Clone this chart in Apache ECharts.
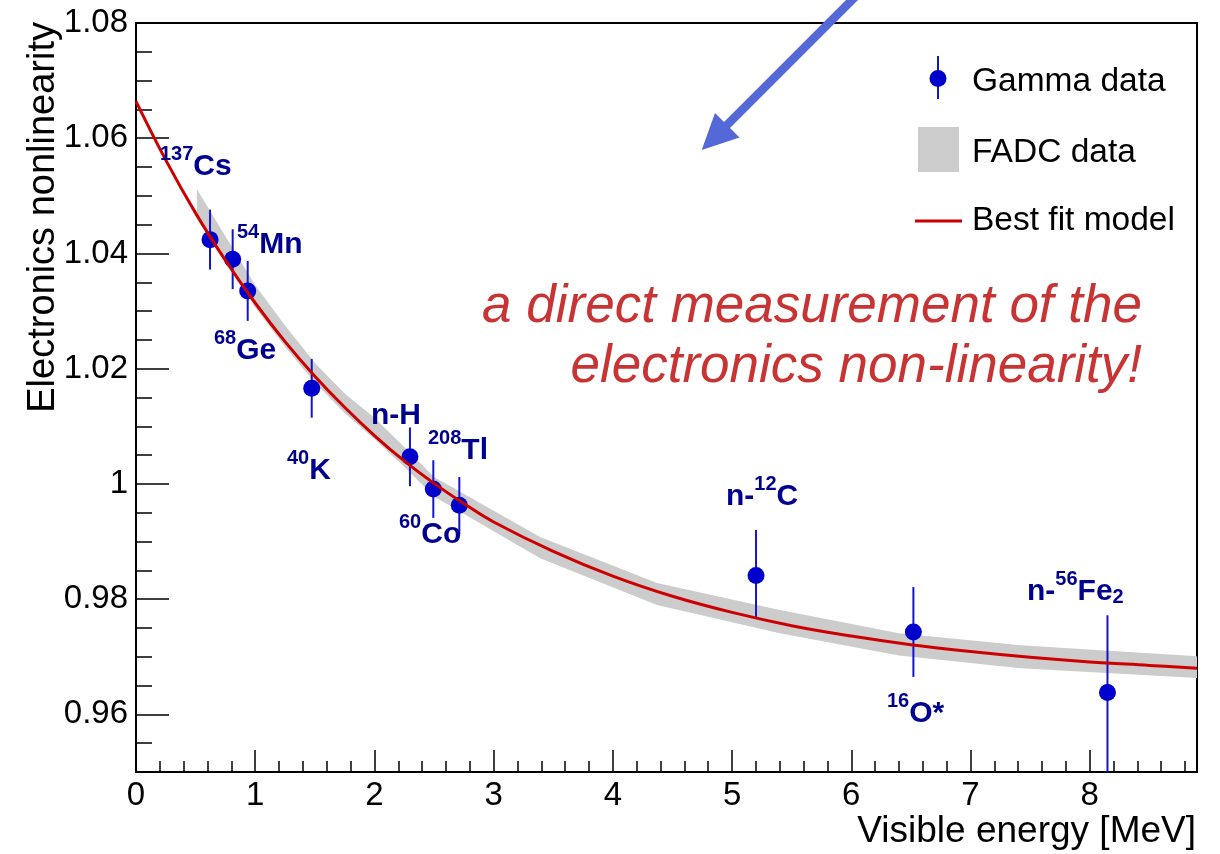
<!DOCTYPE html>
<html>
<head>
<meta charset="utf-8">
<script src="https://cdn.jsdelivr.net/npm/echarts@6/dist/echarts.min.js"></script>
<style>
  html, body { margin: 0; padding: 0; background: #fff; }
  #chart { width: 1220px; height: 854px; }
</style>
</head>
<body>
<div id="chart"></div>
<script>
// ---------------- data ----------------
const gammaNames    = ['137Cs', '54Mn', '68Ge', '40K', 'n-H', '60Co', '208Tl', 'n-12C', '16O*', 'n-56Fe2'];
const gammaEnergy   = [0.621, 0.811, 0.937, 1.474, 2.298, 2.494, 2.712, 5.201, 6.521, 8.149];
const gammaValue    = [1.0424, 1.0390, 1.0335, 1.0166, 1.0047, 0.9991, 0.9963, 0.9841, 0.9743, 0.9638];
const gammaErrLow   = [0.0052, 0.0052, 0.0052, 0.0051, 0.0051, 0.0050, 0.0050, 0.0074, 0.0078, 0.0140];
const gammaErrHigh  = [0.0052, 0.0052, 0.0052, 0.0051, 0.0051, 0.0050, 0.0049, 0.0079, 0.0078, 0.0134];

const fitEnergy = [0, 0.25, 0.5, 0.75, 1.0, 1.25, 1.5, 1.75, 2.0, 2.25, 2.5, 2.75, 3.0, 3.5, 4.0, 4.5, 5.0, 5.5, 6.0, 6.5, 7.0, 7.5, 8.0, 8.5, 8.9];
const fitValue  = [1.0664, 1.0562, 1.0470, 1.0388, 1.0314, 1.0247, 1.0187, 1.0133, 1.0084, 1.0040, 1.0001, 0.9966, 0.9934, 0.9883, 0.9840, 0.9805, 0.9777, 0.9754, 0.9736, 0.9721, 0.9709, 0.9699, 0.9691, 0.9685, 0.9680];

const bandEnergy = [0.51, 0.75, 1.0, 1.25, 1.5, 1.75, 2.0, 2.25, 2.5, 3.39, 4.37, 5.4, 6.4, 7.42, 8.9];
const bandLow    = [1.0470, 1.0390, 1.0306, 1.0238, 1.0176, 1.0123, 1.0078, 1.0030, 0.9978, 0.9871, 0.9790, 0.9741, 0.9702, 0.9680, 0.9663];
const bandHigh   = [1.0512, 1.0430, 1.0345, 1.0275, 1.0210, 1.0157, 1.0115, 1.0064, 1.0012, 0.9908, 0.9828, 0.9781, 0.9741, 0.9720, 0.9701];

const xTickValues = [0, 1, 2, 3, 4, 5, 6, 7, 8];
const xTickLabels = ['0', '1', '2', '3', '4', '5', '6', '7', '8'];
const yTickValues = [0.96, 0.98, 1.00, 1.02, 1.04, 1.06, 1.08];
const yTickLabels = ['0.96', '0.98', '1', '1.02', '1.04', '1.06', '1.08'];

const xTitle = 'Visible energy [MeV]';
const yTitle = 'Electronics nonlinearity';
const legendLabels = ['Gamma data', 'FADC data', 'Best fit model'];
const noteLines = ['a direct measurement of the', 'electronics non-linearity!'];

// ---------------- styling ----------------
const FONT = '"Liberation Sans", Arial, Helvetica, sans-serif';
const C_DOT = '#0000cc';
const C_BAR = '#1414cc';
const C_FIT = '#cc0000';
const C_BAND = '#cccccc';
const C_LAB = '#000090';
const C_NOTE = '#c83434';
const C_ARROW = '#5468d8';

const labelRich = {
  m: { fontSize: 30, fontWeight: 'bold', fontFamily: FONT, fill: C_LAB, lineHeight: 38, verticalAlign: 'bottom' },
  s: { fontSize: 20, fontWeight: 'bold', fontFamily: FONT, fill: C_LAB, lineHeight: 15, verticalAlign: 'top' },
  b: { fontSize: 20, fontWeight: 'bold', fontFamily: FONT, fill: C_LAB, lineHeight: 6, verticalAlign: 'bottom' }
};
// label layout: rich text + pixel anchor (left, top)
const labelLayout = [
  { t: '{s|137}{m|Cs}', x: 160, y: 144 },
  { t: '{s|54}{m|Mn}', x: 237, y: 222 },
  { t: '{s|68}{m|Ge}', x: 214, y: 328 },
  { t: '{s|40}{m|K}', x: 287, y: 448 },
  { t: '{m|n-H}', x: 371, y: 393 },
  { t: '{s|60}{m|Co}', x: 399, y: 512 },
  { t: '{s|208}{m|Tl}', x: 428, y: 428 },
  { t: '{m|n-}{s|12}{m|C}', x: 726, y: 474 },
  { t: '{s|16}{m|O*}', x: 887, y: 691 },
  { t: '{m|n-}{s|56}{m|Fe}{b|2}', x: 1027, y: 569 }
];

const chart = echarts.init(document.getElementById('chart'), null, { renderer: 'canvas' });

const graphics = [];
labelLayout.forEach(l => {
  graphics.push({ type: 'text', x: l.x, y: l.y, z: 50,
    style: { text: l.t, rich: labelRich, fill: C_LAB, font: 'bold 30px ' + FONT, align: 'left', verticalAlign: 'top' } });
});
// axis titles
graphics.push({ type: 'text', x: 1196, y: 832, z: 50,
  style: { text: xTitle, font: '37px ' + FONT, fill: '#000', align: 'right', verticalAlign: 'middle' } });
graphics.push({ type: 'text', x: 44, y: 22, rotation: Math.PI / 2, z: 50,
  style: { text: yTitle, font: '38px ' + FONT, fill: '#000', align: 'right', verticalAlign: 'middle' } });
// legend
graphics.push({ type: 'line', z: 50, shape: { x1: 938, y1: 56, x2: 938, y2: 99 }, style: { stroke: C_BAR, lineWidth: 2 } });
graphics.push({ type: 'circle', z: 51, shape: { cx: 938, cy: 78.5, r: 8.5 }, style: { fill: C_DOT } });
graphics.push({ type: 'rect', z: 50, shape: { x: 918, y: 127, width: 41, height: 45 }, style: { fill: C_BAND } });
graphics.push({ type: 'line', z: 50, shape: { x1: 915, y1: 221, x2: 962, y2: 221 }, style: { stroke: C_FIT, lineWidth: 3 } });
[81.5, 153, 221].forEach((yy, i) => {
  graphics.push({ type: 'text', x: 972, y: yy, z: 50,
    style: { text: legendLabels[i], font: '33.5px ' + FONT, fill: '#000', align: 'left', verticalAlign: 'middle' } });
});
// red note
[307.5, 367.5].forEach((yy, i) => {
  graphics.push({ type: 'text', x: 1142, y: yy, z: 50,
    style: { text: noteLines[i], font: 'italic 53px ' + FONT, fill: C_NOTE, align: 'right', verticalAlign: 'middle' } });
});
// arrow
graphics.push({ type: 'line', z: 60, shape: { x1: 862, y1: -10, x2: 726, y2: 126 }, style: { stroke: C_ARROW, lineWidth: 8.5 } });
graphics.push({ type: 'polygon', z: 60, shape: { points: [[701.7, 150], [715, 113], [739.5, 137.5]] }, style: { fill: C_ARROW } });

const option = {
  backgroundColor: '#ffffff',
  animation: false,
  grid: { left: 136, right: 23, top: 23, bottom: 82, show: true, borderColor: '#000', borderWidth: 2, backgroundColor: 'transparent' },
  xAxis: [
    {
      type: 'value', position: 'bottom', min: 0, max: 8.9, interval: 1,
      axisLine: { show: true, onZero: false, lineStyle: { color: '#000', width: 2 } },
      axisTick: { show: true, inside: true, length: 22, lineStyle: { color: '#000', width: 1.5 } },
      axisLabel: { show: true, margin: 7, fontSize: 33, fontFamily: FONT, color: '#000', showMaxLabel: false,
        formatter: v => { const i = xTickValues.findIndex(t => Math.abs(t - v) < 1e-9); return i >= 0 ? xTickLabels[i] : ''; } },
      splitLine: { show: false }
    },
    {
      type: 'value', position: 'bottom', min: 0, max: 8.9, interval: 0.2,
      axisLine: { show: false, onZero: false },
      axisTick: { show: true, inside: true, length: 11, lineStyle: { color: '#000', width: 1.5 } },
      axisLabel: { show: false },
      splitLine: { show: false }
    }
  ],
  yAxis: [
    {
      type: 'value', position: 'left', min: 0.95, max: 1.08,
      axisLine: { show: true, onZero: false, lineStyle: { color: '#000', width: 2 } },
      axisTick: { show: true, inside: true, length: 33, customValues: yTickValues, lineStyle: { color: '#000', width: 1.5 } },
      axisLabel: { show: true, margin: 8, fontSize: 33, fontFamily: FONT, color: '#000', customValues: yTickValues,
        formatter: v => { const i = yTickValues.findIndex(t => Math.abs(t - v) < 1e-9); return i >= 0 ? yTickLabels[i] : ''; } },
      splitLine: { show: false }
    },
    {
      type: 'value', position: 'left', min: 0.95, max: 1.08, interval: 0.005,
      axisLine: { show: false, onZero: false },
      axisTick: { show: true, inside: true, length: 16, lineStyle: { color: '#000', width: 1.5 } },
      axisLabel: { show: false },
      splitLine: { show: false }
    }
  ],
  series: [
    {
      type: 'custom', name: 'FADC data', xAxisIndex: 0, yAxisIndex: 0, z: 1, clip: true, silent: true,
      data: [[bandEnergy[0], bandLow[0]]],
      renderItem: (params, api) => {
        const pts = [];
        for (let i = 0; i < bandEnergy.length; i++) pts.push(api.coord([bandEnergy[i], bandHigh[i]]));
        for (let i = bandEnergy.length - 1; i >= 0; i--) pts.push(api.coord([bandEnergy[i], bandLow[i]]));
        return { type: 'polygon', shape: { points: pts }, style: { fill: C_BAND } };
      }
    },
    {
      type: 'custom', name: 'Gamma errors', xAxisIndex: 0, yAxisIndex: 0, z: 2, clip: true, silent: true,
      data: gammaEnergy.map((e, i) => [e, gammaValue[i] - gammaErrLow[i], gammaValue[i] + gammaErrHigh[i]]),
      encode: { x: 0, y: [1, 2] },
      renderItem: (params, api) => {
        const p1 = api.coord([api.value(0), api.value(1)]);
        const p2 = api.coord([api.value(0), api.value(2)]);
        return { type: 'line', shape: { x1: p1[0], y1: p1[1], x2: p2[0], y2: p2[1] }, style: { stroke: C_BAR, lineWidth: 2 } };
      }
    },
    {
      type: 'scatter', name: 'Gamma data', xAxisIndex: 0, yAxisIndex: 0, z: 3, silent: true,
      symbol: 'circle', symbolSize: 17,
      itemStyle: { color: C_DOT, opacity: 1 },
      data: gammaEnergy.map((e, i) => [e, gammaValue[i]])
    },
    {
      type: 'line', name: 'Best fit model', xAxisIndex: 0, yAxisIndex: 0, z: 4, silent: true,
      showSymbol: false, smooth: 0.4,
      lineStyle: { color: C_FIT, width: 3 },
      data: fitEnergy.map((e, i) => [e, fitValue[i]])
    }
  ],
  graphic: graphics
};
chart.setOption(option);
</script>
</body>
</html>
